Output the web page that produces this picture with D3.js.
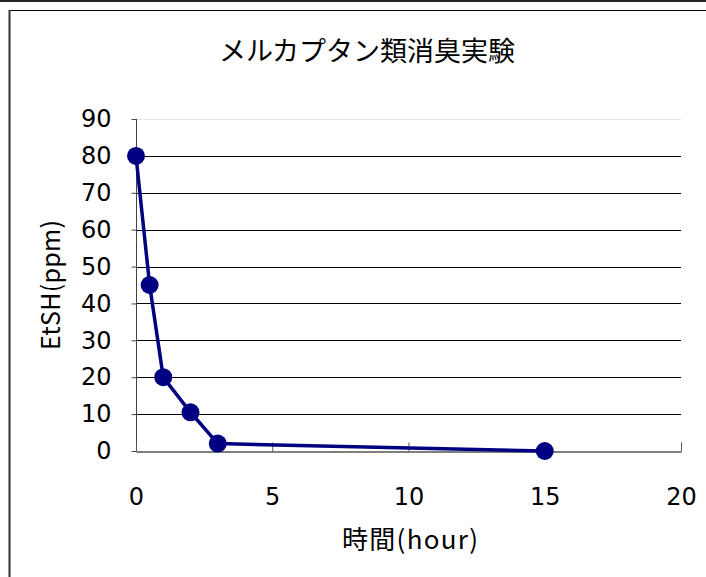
<!DOCTYPE html>
<html>
<head>
<meta charset="utf-8">
<script src="https://cdn.jsdelivr.net/npm/d3@7"></script>
<style>
  body { margin: 0; background: #fff; }
  svg { display: block; font-family: "Noto Sans CJK JP", "DejaVu Sans", sans-serif; }
</style>
</head>
<body>
<svg id="chart" width="706" height="577"></svg>
<script>
const hours = [0, 0.5, 1, 2, 3, 15];
const etsh = [80, 45, 20, 10.5, 2, 0];
const xTicks = [0, 5, 10, 15, 20];
const yTicks = [0, 10, 20, 30, 40, 50, 60, 70, 80, 90];
const titleText = "メルカプタン類消臭実験";
const xLabel = "時間(hour)";
const yLabel = "EtSH(ppm)";

const margin = { top: 119, right: 25, bottom: 126, left: 136 };
const svg = d3.select("#chart");
const width = 706 - margin.left - margin.right;
const height = 577 - margin.top - margin.bottom;
const numFont = "'DejaVu Sans', sans-serif";

// outer frame bits
svg.append("rect").attr("x", 0).attr("y", 0).attr("width", 706).attr("height", 2).attr("fill", "#222");
svg.append("line").attr("x1", 9).attr("x2", 706).attr("y1", 10.5).attr("y2", 10.5)
  .attr("stroke", "#000").attr("stroke-width", 1);
svg.append("line").attr("x1", 9.5).attr("x2", 9.5).attr("y1", 10).attr("y2", 577)
  .attr("stroke", "#333").attr("stroke-width", 2);

const x = d3.scaleLinear().domain([0, 20]).range([0, width]);
const y = d3.scaleLinear().domain([0, 90]).range([height, 0]);

const g = svg.append("g").attr("transform", "translate(" + margin.left + "," + margin.top + ")");

// gridlines
g.append("g")
  .selectAll("line")
  .data(yTicks.filter(d => d > 0))
  .enter()
  .append("line")
  .attr("x1", 0)
  .attr("x2", width)
  .attr("y1", d => Math.round(y(d)) + 0.5)
  .attr("y2", d => Math.round(y(d)) + 0.5)
  .attr("stroke", d => d === 90 ? "#e6e6e6" : "#000")
  .attr("stroke-width", 1);

// y axis
const yAxis = g.append("g")
  .attr("transform", "translate(0.5,0)")
  .call(d3.axisLeft(y).tickValues(yTicks).tickSize(5).tickPadding(20));
yAxis.select(".domain").attr("stroke", "#444").attr("d", "M0," + height + "V0");
yAxis.selectAll(".tick line").attr("stroke", "#444");
yAxis.selectAll("text")
  .style("font-family", numFont).style("font-size", "24px").attr("fill", "#000");

// x axis
const xAxis = g.append("g")
  .attr("transform", "translate(0," + (Math.round(height) + 0.5) + ")")
  .call(d3.axisBottom(x).tickValues(xTicks).tickSize(0).tickPadding(36));
xAxis.select(".domain").attr("stroke", "#555").attr("stroke-width", 1.5);
xAxis.selectAll(".tick line").attr("y1", -9).attr("y2", 0).attr("stroke", "#555");
xAxis.selectAll("text")
  .style("font-family", numFont).style("font-size", "24px").attr("fill", "#000");

// line + markers
const points = hours.map((h, i) => ({ h: h, v: etsh[i] }));
g.append("path")
  .datum(points)
  .attr("fill", "none")
  .attr("stroke", "#000080")
  .attr("stroke-width", 3.5)
  .attr("d", d3.line().x(d => x(d.h)).y(d => y(d.v)));

g.append("g")
  .selectAll("circle")
  .data(points)
  .enter()
  .append("circle")
  .attr("cx", d => x(d.h))
  .attr("cy", d => y(d.v))
  .attr("r", 9)
  .attr("fill", "#000080");

// texts
svg.append("text")
  .attr("x", 367).attr("y", 61)
  .attr("text-anchor", "middle")
  .style("font-size", "27px")
  .text(titleText);

svg.append("text")
  .attr("x", 410).attr("y", 549)
  .attr("text-anchor", "middle")
  .style("font-size", "26px")
  .attr("textLength", 136)
  .text(xLabel);

svg.append("text")
  .attr("transform", "translate(60,285) rotate(-90)")
  .attr("text-anchor", "middle")
  .style("font-size", "25px")
  .attr("textLength", 130)
  .text(yLabel);
</script>
</body>
</html>
